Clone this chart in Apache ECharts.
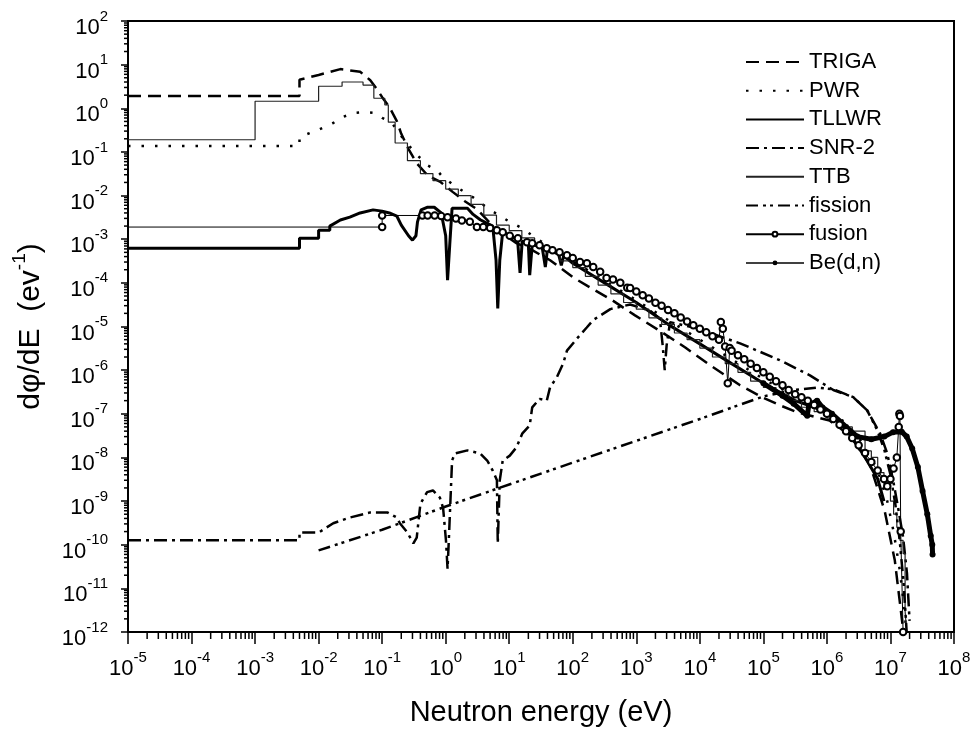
<!DOCTYPE html>
<html><head><meta charset="utf-8">
<script src="https://cdn.jsdelivr.net/npm/echarts@6/dist/echarts.min.js"></script>
<style>html,body{margin:0;padding:0;background:#fff}#c{width:976px;height:736px}</style>
</head><body><div id="c"></div>
<script>
const FONT = '"Liberation Sans", Arial, Helvetica, sans-serif';
const X_MIN = 1e-5, X_MAX = 1e8, Y_MIN = 1e-12, Y_MAX = 1e2;
const xDecades = [-5,-4,-3,-2,-1,0,1,2,3,4,5,6,7];
const yDecades = [-12,-11,-10,-9,-8,-7,-6,-5,-4,-3,-2,-1,0,1];
const minorFactors = [2,3,4,5,6,7,8,9];

const TRIGA = [[1e-5,1.9],[5e-3,1.9],[5e-3,4.5],[1e-2,5.8],[2.2e-2,7.9],[4.5e-2,6.9],[6.5e-2,4.4],[8.5e-2,2.6],[0.10,1.8],[0.13,1.07],[0.17,0.51],[0.20,0.26],[0.26,0.116],[0.35,0.055],[0.52,0.029],[0.81,0.021],[1.3,0.012],[2.0,7.4e-3],[3.1,4.9e-3],[4.8,2.5e-3],[7.4,1.45e-3],[13,8.1e-4],[23,5.6e-4],[44,3.3e-4],[100,1.35e-4],[175,8.3e-5],[417,4e-5],[955,1.8e-5],[2.3e3,8.1e-6],[5.9e3,3.3e-6],[1.45e4,1.3e-6],[4.3e4,4.5e-7],[9.5e4,2.4e-7],[1.95e5,1.5e-7],[3.5e5,1.07e-7],[1.1e6,7e-8],[2.3e6,3.2e-8],[4.8e6,6.6e-9],[8.1e6,6e-10],[1.17e7,4.4e-11],[1.6e7,1e-12]];

const PWR = [[1e-5,0.136],[5e-3,0.136],[5e-3,0.22],[9.8e-3,0.32],[0.017,0.46],[0.024,0.63],[0.035,0.78],[0.054,0.82],[0.078,0.78],[0.10,0.6],[0.14,0.48],[0.17,0.32],[0.21,0.21],[0.26,0.145],[0.33,0.094],[0.40,0.072],[0.51,0.05],[0.73,0.038],[0.91,0.026],[1.5,0.0155],[2.7,9.1e-3],[5.0,4.7e-3],[10.2,2.5e-3],[14.8,1.9e-3],[31.6,8.9e-4],[100,3.2e-4],[316,1.12e-4],[1e3,4e-5],[3.16e3,1.41e-5],[1e4,5e-6],[3.16e4,1.78e-6],[1e5,6.3e-7],[3.16e5,2.5e-7],[1e6,1.12e-7],[2e6,6.3e-8],[4e6,1.78e-8],[6.3e6,5e-9],[8.9e6,1e-9],[1.12e7,2e-10],[1.41e7,2.5e-11],[1.66e7,3.2e-12],[1.78e7,1e-12]];

const TLLWR = [[1e-5,6.2e-4],[5e-3,6.2e-4],[5e-3,1.05e-3],[1e-2,1.05e-3],[1e-2,1.6e-3],[0.015,1.6e-3],[0.015,2.0e-3],[0.022,2.75e-3],[0.031,3.2e-3],[0.045,4e-3],[0.072,4.7e-3],[0.10,4.4e-3],[0.13,4e-3],[0.17,3.4e-3],[0.20,2.1e-3],[0.26,1.2e-3],[0.30,9.5e-4],[0.34,1.2e-3],[0.36,2.5e-3],[0.41,4.7e-3],[0.51,5.4e-3],[0.66,5.4e-3],[0.85,4e-3],[1.0,1.2e-3],[1.07,1.15e-4],[1.17,9.5e-4],[1.26,5.1e-3],[2.2,5.1e-3],[2.7,3.7e-3],[3.5,2.8e-3],[4.5,2.3e-3],[5.5,2e-3],[6.2,3.3e-4],[6.6,2.6e-5],[7.1,3.3e-4],[7.9,1.5e-3],[10.2,1.17e-3],[13.5,1e-3],[14.8,1.7e-4],[16,9e-4],[20,8e-4],[21,1.5e-4],[23,7.5e-4],[33,6.5e-4],[37,2.3e-4],[40,6e-4],[60,4.5e-4],[66,2.5e-4],[72,4.2e-4],[100,2.8e-4],[316,1e-4],[1e3,3.55e-5],[3.16e3,1.12e-5],[1e4,4e-6],[3.16e4,1.41e-6],[1e5,5e-7],[3.16e5,2e-7],[6.3e5,1.41e-7],[1e6,1e-7],[1.58e6,6.3e-8],[2.5e6,2.8e-8],[4e6,1e-8],[6.3e6,3.2e-9],[7.9e6,1e-9]];

const SNR2 = [[1e-5,1.26e-10],[5e-3,1.26e-10],[5e-3,1.9e-10],[1e-2,1.9e-10],[0.017,3.1e-10],[0.031,4.2e-10],[0.065,5.5e-10],[0.12,5.5e-10],[0.17,4.2e-10],[0.19,3.1e-10],[0.25,1.9e-10],[0.31,1.07e-10],[0.35,1.45e-10],[0.40,8.7e-10],[0.51,1.6e-9],[0.63,1.75e-9],[0.81,1.2e-9],[0.91,7e-10],[1.01,1.26e-10],[1.07,2.8e-11],[1.12,1.26e-10],[1.26,8.5e-9],[1.4,1.23e-8],[2.2,1.45e-8],[3.5,1.23e-8],[4.5,8.5e-9],[5.5,5e-9],[6.4,3e-9],[6.6,1.07e-10],[7.1,3e-9],[7.9,8.5e-9],[10.2,1.1e-8],[13,1.7e-8],[16,3.5e-8],[21,5.4e-8],[23,1.4e-7],[30,2.2e-7],[39,2e-7],[44,4.1e-7],[56,6.8e-7],[71,1.45e-6],[81,2.8e-6],[118,5.4e-6],[166,9.5e-6],[209,1.4e-5],[390,2.5e-5],[800,3.2e-5],[1.65e3,2.3e-5],[2.35e3,1.5e-5],[2.6e3,3.7e-6],[2.8e3,1e-6],[3e3,3.7e-6],[3.4e3,1.26e-5],[9e3,9.1e-6],[4.3e4,4.1e-6],[1.8e5,1.7e-6],[5.4e5,7.6e-7],[1.26e6,3.5e-7],[2.6e6,2.4e-7],[4.3e6,1.2e-7],[6.9e6,3.5e-8],[8.9e6,1.23e-8],[1.1e7,3e-9],[1.32e7,7e-10],[1.58e7,1.5e-10],[1.82e7,2.2e-11],[2.0e7,1.8e-12]];

const TTB = [[1e-5,0.19],[1e-3,1.45],[1e-2,3.2],[0.0234,4.0],[0.050,3.4],[0.074,1.7],[0.11,1.2],[0.125,0.48],[0.16,0.16],[0.25,0.063],[0.40,0.032],[0.63,0.022],[1.0,0.0141],[1.58,0.01],[2.51,6.3e-3],[3.98,3.55e-3],[6.3,2.1e-3],[10,1.58e-3],[15.8,1.07e-3],[25.1,7.1e-4],[39.8,5e-4],[63,3.2e-4],[100,2.24e-4],[158,1.41e-4],[251,8.9e-5],[398,5.6e-5],[631,3.55e-5],[1e3,2.5e-5],[1.58e3,1.58e-5],[2.51e3,1.12e-5],[3.98e3,7.1e-6],[6.3e3,5e-6],[1e4,3.2e-6],[1.58e4,2e-6],[2.51e4,1.41e-6],[3.98e4,8.9e-7],[6.3e4,5.6e-7],[1e5,4e-7],[1.58e5,2.8e-7],[2.51e5,2e-7],[3.98e5,1.41e-7],[6.3e5,1.12e-7],[1e6,7.9e-8],[1.58e6,5e-8],[2.51e6,4e-8],[3.98e6,1.41e-8],[5.0e6,1e-8],[6.3e6,4.5e-9],[7.9e6,2.5e-9],[1.0e7,1e-9],[1.12e7,5e-10],[1.26e7,2.5e-10],[1.41e7,1.26e-10],[1.58e7,6.3e-11],[1.7e7,3e-12],[1.8e7,1e-12]];

const FISSION = [[1e-2,7.4e-11],[0.1,2.2e-10],[1,7.5e-10],[10,2.4e-9],[100,7.6e-9],[1e3,2.4e-8],[1e4,7.6e-8],[1e5,2.5e-7],[3e5,3.5e-7],[7e5,4e-7],[1.3e6,3.6e-7],[2.6e6,2.4e-7],[4.3e6,1.2e-7],[6.2e6,4.2e-8],[8e6,1.5e-8],[1e7,4e-9],[1.2e7,8e-10],[1.4e7,1.2e-10],[1.6e7,1.5e-11],[1.8e7,1e-12]];

const FUSION = [[1e-5,1.9e-3],[0.1,1.9e-3],[0.1,3.5e-3],[0.43,3.5e-3],[0.52,3.5e-3],[0.67,3.5e-3],[0.85,3.4e-3],[1.07,3.2e-3],[1.45,3.0e-3],[1.8,2.7e-3],[2.4,2.5e-3],[3.1,1.9e-3],[3.9,1.9e-3],[5.0,1.8e-3],[6.4,1.6e-3],[7.9,1.45e-3],[10.2,1.2e-3],[13.7,1.05e-3],[19,8.5e-4],[23,8.1e-4],[30,7.3e-4],[39,6.2e-4],[48,5.6e-4],[62,5e-4],[81,4.3e-4],[100,3.7e-4],[130,3e-4],[167,2.8e-4],[210,2.3e-4],[270,1.8e-4],[340,1.3e-4],[430,1.2e-4],[560,1e-4],[720,7.7e-5],[800,7.6e-5],[1e3,6.3e-5],[1.26e3,5.2e-5],[1.58e3,4.4e-5],[2e3,3.5e-5],[2.5e3,3e-5],[3.16e3,2.4e-5],[3.98e3,2e-5],[5e3,1.6e-5],[6.3e3,1.3e-5],[7.9e3,1.07e-5],[1e4,8.9e-6],[1.26e4,7.4e-6],[1.58e4,6e-6],[2e4,5e-6],[2.14e4,1.26e-5],[2.3e4,8.9e-6],[2.5e4,3.5e-6],[2.75e4,5e-7],[2.95e4,3.2e-6],[3.16e4,2.8e-6],[3.98e4,2.2e-6],[5e4,1.78e-6],[6.3e4,1.41e-6],[7.9e4,1.12e-6],[1e5,8.9e-7],[1.26e5,7.1e-7],[1.58e5,5.6e-7],[2e5,4.5e-7],[2.5e5,3.5e-7],[3.16e5,2.8e-7],[3.98e5,2.4e-7],[5e5,2e-7],[6.3e5,1.58e-7],[7.9e5,1.26e-7],[1e6,1e-7],[1.26e6,7.6e-8],[1.58e6,5.6e-8],[2e6,4e-8],[2.5e6,2.8e-8],[3.16e6,1.9e-8],[3.98e6,1.26e-8],[5e6,7.9e-9],[6.3e6,5e-9],[7.9e6,3.2e-9],[8.9e6,2.2e-9],[1e7,3.2e-9],[1.12e7,5.6e-9],[1.26e7,1e-8],[1.35e7,5e-8],[1.38e7,1e-7],[1.41e7,8.9e-8],[1.45e7,2e-10],[1.58e7,1e-12]];

const BEDN = [[1e5,5e-7],[2e5,2.6e-7],[3e5,1.7e-7],[4.9e5,9e-8],[5.2e5,1.6e-7],[7e5,2e-7],[8.5e5,1.4e-7],[1.2e6,1e-7],[2e6,5e-8],[3e6,3e-8],[5e6,2.6e-8],[8e6,3e-8],[1.1e7,3.8e-8],[1.5e7,3.9e-8],[1.8e7,3e-8],[2.2e7,1.6e-8],[2.7e7,6e-9],[3.2e7,1.7e-9],[3.8e7,5e-10],[4.3e7,1.6e-10],[4.55e7,1e-10],[4.6e7,6e-11]];

const xMinor = [], yMinor = [];
xDecades.forEach(d => minorFactors.forEach(f => xMinor.push([f * Math.pow(10, d), Y_MIN])));
yDecades.forEach(d => minorFactors.forEach(f => yMinor.push([X_MIN, f * Math.pow(10, d)])));

// the first fusion point (at the left axis) has no marker in the original
const fusionData = FUSION.map((p, i) => i === 0 ? {value: p, symbol: 'none'} : p);

function powLabel(v) {
  const e = Math.round(Math.log10(v));
  return '{b|10}{s|' + e + '}';
}
const labelRich = {
  b: {fontSize: 22, fontFamily: FONT, color: '#000', lineHeight: 30, verticalAlign: 'bottom'},
  s: {fontSize: 15, fontFamily: FONT, color: '#000', lineHeight: 15, verticalAlign: 'top'}
};

const chart = echarts.init(document.getElementById('c'));
const base = {type: 'line', symbol: 'none', animation: false, silent: true, z: 3};
const noMark = {itemStyle: {opacity: 0, color: 'rgba(0,0,0,0)', borderWidth: 0}};
chart.setOption({
  animation: false,
  backgroundColor: '#fff',
  grid: {left: 128, top: 21, width: 826, height: 611, show: true, borderColor: '#000', borderWidth: 2, backgroundColor: 'transparent'},
  legend: {
    orient: 'vertical', left: 745, top: 51, padding: 0, itemWidth: 58, itemHeight: 6, itemGap: 6.7,
    textStyle: {fontSize: 22, fontFamily: FONT, color: '#000', lineHeight: 22},
    data: [
      Object.assign({name: 'TRIGA'}, noMark), Object.assign({name: 'PWR'}, noMark),
      Object.assign({name: 'TLLWR'}, noMark), Object.assign({name: 'SNR-2'}, noMark),
      Object.assign({name: 'TTB'}, noMark), Object.assign({name: 'fission'}, noMark),
      {name: 'fusion'}, {name: 'Be(d,n)', lineStyle: {width: 1.5}}
    ]
  },
  xAxis: {
    type: 'log', logBase: 10, min: X_MIN, max: X_MAX, interval: 1,
    name: 'Neutron energy (eV)', nameLocation: 'middle', nameGap: 66,
    nameTextStyle: {fontSize: 29, fontFamily: FONT, color: '#000'},
    axisLine: {lineStyle: {color: '#000', width: 2}},
    axisTick: {show: true, inside: false, length: 12, lineStyle: {color: '#000', width: 1.5}},
    axisLabel: {formatter: powLabel, rich: labelRich, margin: 18, color: '#000'},
    splitLine: {show: false}, minorTick: {show: false}
  },
  yAxis: {
    type: 'log', logBase: 10, min: Y_MIN, max: Y_MAX, interval: 1,
    name: '{a|dφ/dE  (ev}{s|-1}{a|)}', nameLocation: 'middle', nameGap: 82, nameRotate: 90,
    nameTextStyle: {rich: {
      a: {fontSize: 30, fontFamily: FONT, color: '#000', lineHeight: 36, verticalAlign: 'bottom'},
      s: {fontSize: 19, fontFamily: FONT, color: '#000', lineHeight: 20, verticalAlign: 'top'}
    }},
    axisLine: {lineStyle: {color: '#000', width: 2}},
    axisTick: {show: true, inside: false, length: 7, lineStyle: {color: '#000', width: 1.5}},
    axisLabel: {formatter: powLabel, rich: labelRich, margin: 20, color: '#000', padding: [6, 0, 0, 0]},
    splitLine: {show: false}, minorTick: {show: false}
  },
  series: [
    Object.assign({}, base, {name: 'TRIGA', data: TRIGA, lineStyle: {color: '#000', width: 2.5, type: [13, 7]}, itemStyle: {color: '#000'}}),
    Object.assign({}, base, {name: 'PWR', data: PWR, lineStyle: {color: '#000', width: 2.5, type: [2.5, 11]}, itemStyle: {color: '#000'}}),
    Object.assign({}, base, {name: 'TLLWR', data: TLLWR, lineStyle: {color: '#000', width: 3}, itemStyle: {color: '#000'}}),
    Object.assign({}, base, {name: 'SNR-2', data: SNR2, lineStyle: {color: '#000', width: 2.5, type: [13, 5, 3, 5]}, itemStyle: {color: '#000'}}),
    Object.assign({}, base, {name: 'TTB', data: TTB, step: 'end', lineStyle: {color: '#222', width: 1.2}, itemStyle: {color: '#222'}}),
    Object.assign({}, base, {name: 'fission', data: FISSION, lineStyle: {color: '#000', width: 2.5, type: [12, 5, 3, 4, 3, 5]}, itemStyle: {color: '#000'}}),
    Object.assign({}, base, {name: 'fusion', data: fusionData, symbol: 'emptyCircle', symbolSize: 6.5, showSymbol: true, showAllSymbol: true, z: 5,
      lineStyle: {color: '#000', width: 1}, itemStyle: {color: '#000', borderColor: '#000', borderWidth: 1}}),
    Object.assign({}, base, {name: 'Be(d,n)', data: BEDN, symbol: 'circle', symbolSize: 6, showSymbol: true, showAllSymbol: true, z: 4,
      lineStyle: {color: '#000', width: 5}, itemStyle: {color: '#000'}}),
    {type: 'custom', name: 'xminor', data: xMinor, clip: false, silent: true, z: 10,
      renderItem: (params, api) => {
        const p = api.coord([api.value(0), api.value(1)]);
        return {type: 'line', shape: {x1: p[0], y1: p[1], x2: p[0], y2: p[1] + 7}, style: {stroke: '#000', lineWidth: 1.5}};
      }},
    {type: 'custom', name: 'yminor', data: yMinor, clip: false, silent: true, z: 10,
      renderItem: (params, api) => {
        const p = api.coord([api.value(0), api.value(1)]);
        return {type: 'line', shape: {x1: p[0] - 4, y1: p[1], x2: p[0], y2: p[1]}, style: {stroke: '#000', lineWidth: 1.5}};
      }}
  ]
});
</script>
</body></html>
